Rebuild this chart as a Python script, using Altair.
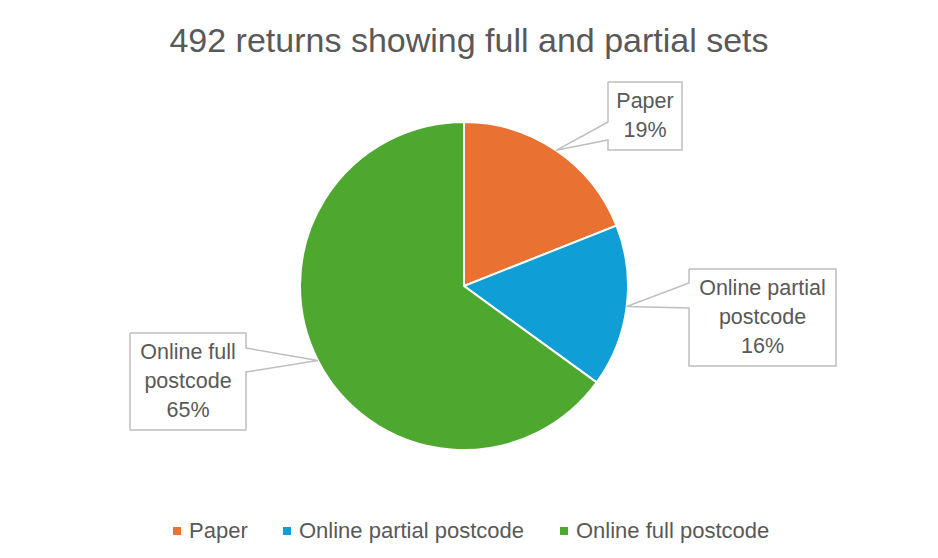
import math
import altair as alt
import pandas as pd

# ---------------- data ----------------
CATEGORIES = ["Paper", "Online partial postcode", "Online full postcode"]
SHARES = [19, 16, 65]  # percent of the 492 returns
LABEL_NAMES = ["Paper", "Online partial\npostcode", "Online full\npostcode"]
COLORS = ["#E97132", "#0F9ED5", "#4EA72E"]
TITLE = "492 returns showing full and partial sets"

# ---------------- layout (plot-area pixels) ----------------
FONT = "Liberation Sans"
TEXT_COLOR = "#595959"
W, H = 922, 490
PAD_TOP = 60
CX, CY, R = 456, 218, 164
LINE_H = 29
# left, right, top, bottom, wedge side, wedge base y1, wedge base y2
BOXES = [
    (600, 674, 14, 82, "left", 54, 72),
    (681, 828, 201, 298, "left", 215, 240),
    (122, 238, 265, 362, "right", 280, 304),
]

xs = alt.Scale(domain=[0, W], nice=False, zero=False)
ys = alt.Scale(domain=[0, H], nice=False, zero=False, reverse=True)

total = sum(SHARES)
pie_df = pd.DataFrame({
    "category": CATEGORIES,
    "share": SHARES,
    "idx": list(range(len(CATEGORIES))),
})

# callout outlines and label texts
rows, texts = [], []
cum = 0
for i, (cat, v, name) in enumerate(zip(CATEGORIES, SHARES, LABEL_NAMES)):
    a = 2 * math.pi * (cum + v / 2) / total
    cum += v
    tx, ty = CX + R * math.sin(a), CY - R * math.cos(a)
    l, r, t, b, side, w1, w2 = BOXES[i]
    if side == "left":
        pts = [(l, t), (r, t), (r, b), (l, b), (l, w2), (tx, ty), (l, w1), (l, t)]
    else:
        pts = [(l, t), (r, t), (r, w1), (tx, ty), (r, w2), (r, b), (l, b), (l, t)]
    for k, (px, py) in enumerate(pts):
        rows.append({"label": cat, "k": k, "x": px, "y": py})
    txt = f"{name}\n{v}%"
    n_lines = txt.count("\n") + 1
    texts.append({"label": cat, "x": (l + r) / 2,
                  "y": (t + b) / 2 - (n_lines - 1) * LINE_H / 2,
                  "text": txt})
call_df = pd.DataFrame(rows)
text_df = pd.DataFrame(texts)

pie = alt.Chart(pie_df).mark_arc(outerRadius=R, stroke="white", strokeWidth=2).encode(
    theta=alt.Theta("share:Q", stack=True),
    order=alt.Order("idx:Q"),
    color=alt.Color(
        "category:N",
        sort=CATEGORIES,
        scale=alt.Scale(domain=CATEGORIES, range=COLORS),
        legend=alt.Legend(
            orient="none", legendX=158, legendY=452, direction="horizontal",
            title=None, symbolType="square", symbolSize=64, symbolStrokeWidth=0,
            labelFont=FONT, labelFontSize=22, labelColor=TEXT_COLOR,
            labelOffset=1, columnPadding=28, padding=0, labelLimit=500,
        ),
    ),
    x=alt.value(CX),
    y=alt.value(CY),
)

callouts = alt.Chart(call_df).mark_line(color="#BFBFBF", strokeWidth=1.5).encode(
    x=alt.X("x:Q", scale=xs, axis=None),
    y=alt.Y("y:Q", scale=ys, axis=None),
    detail="label:N",
    order="k:Q",
)

labels = alt.Chart(text_df).mark_text(
    align="center", baseline="middle", lineBreak="\n", lineHeight=LINE_H,
    font=FONT, fontSize=21.5, color=TEXT_COLOR,
).encode(
    x=alt.X("x:Q", scale=xs, axis=None),
    y=alt.Y("y:Q", scale=ys, axis=None),
    text="text:N",
)

chart = alt.layer(pie, callouts, labels).properties(
    width=W, height=H,
    background="white",
    title=alt.TitleParams(
        TITLE, anchor="middle", font=FONT, fontSize=34, fontWeight="normal",
        color=TEXT_COLOR, offset=-18, baseline="alphabetic",
    ),
    autosize=alt.AutoSizeParams(type="none"),
    padding={"left": 0, "top": PAD_TOP, "right": 0, "bottom": 0},
).configure_view(strokeWidth=0, stroke="transparent")

chart.save("out.html", embed_options={"renderer": "svg", "actions": False})
